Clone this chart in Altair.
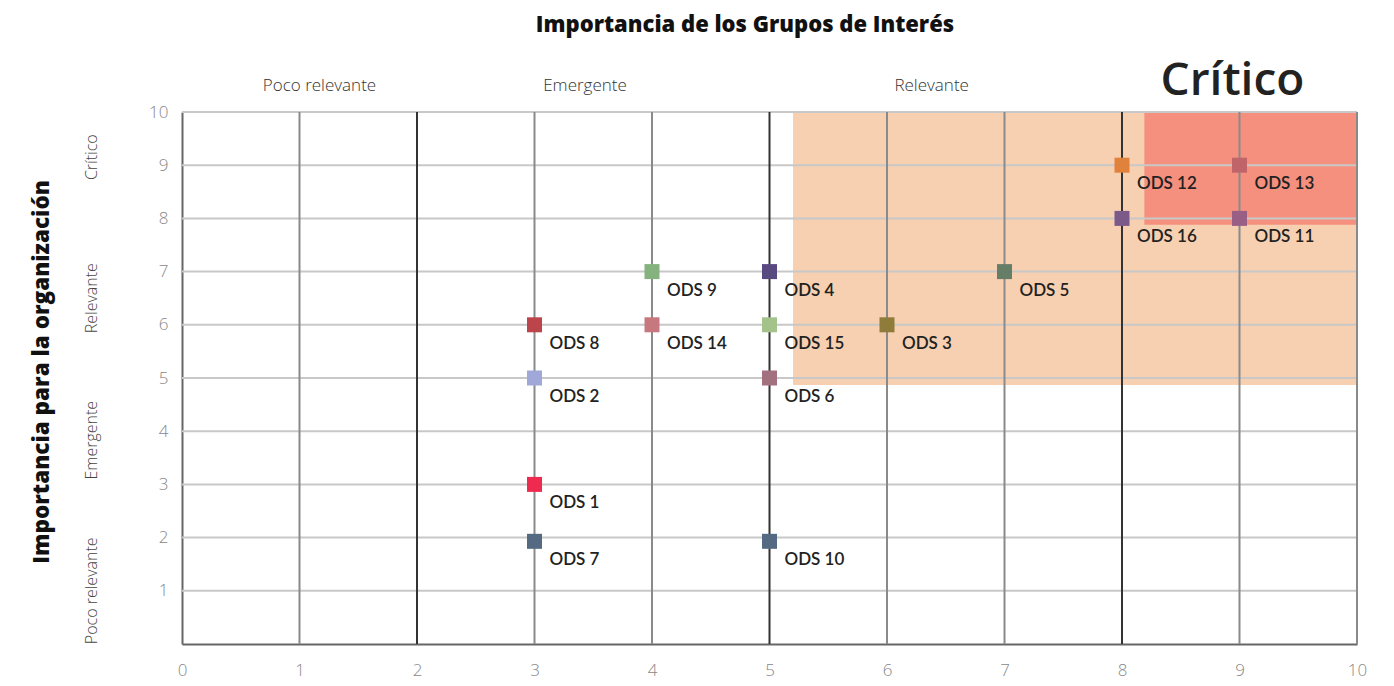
import altair as alt
import pandas as pd

# ---- data ----
ods_labels = ["ODS 1", "ODS 2", "ODS 3", "ODS 4", "ODS 5", "ODS 6", "ODS 7", "ODS 8",
              "ODS 9", "ODS 10", "ODS 11", "ODS 12", "ODS 13", "ODS 14", "ODS 15", "ODS 16"]
grupos = [3, 3, 6, 5, 7, 5, 3, 3, 4, 5, 9, 8, 9, 4, 5, 8]          # x: Importancia de los Grupos de Interés
organizacion = [3, 5, 6, 7, 7, 5, 1.93, 6, 7, 1.93, 8, 9, 9, 6, 6, 8]  # y: Importancia para la organización
ods_colors = ["#EE2A4F", "#9FA8D8", "#8F7B3A", "#584A80", "#667D68", "#A3707F", "#546A82", "#BC444B",
              "#85B27E", "#546A82", "#9A5F85", "#E0813C", "#C0646A", "#C7787E", "#A3C38A", "#7B5A8A"]

zone_x1 = [5.2, 8.19]
zone_x2 = [10, 10]
zone_y1 = [4.87, 7.88]
zone_y2 = [10, 10]
zone_colors = ["#F7D0B1", "#F5907E"]

light_vlines = [1, 3, 4, 6, 7, 9, 10]
dark_vlines = [2, 5, 8]
hlines = [1, 2, 3, 4, 5, 6, 7, 8, 9, 10]

top_cats = ["Poco relevante", "Emergente", "Relevante"]
top_cats_x = [1.17, 3.43, 6.38]
top_big = ["Crítico"]
top_big_x = [8.94]

left_cats = ["Crítico", "Relevante", "Emergente", "Poco relevante"]
left_cats_y = [9.15, 6.5, 3.83, 1.0]

x_ticks = list(range(0, 11))
y_ticks = list(range(1, 11))

# ---- tables ----
pts = pd.DataFrame({"label": ods_labels, "x": grupos, "y": organizacion, "color": ods_colors})
zones = pd.DataFrame({"x1": zone_x1, "x2": zone_x2, "y1": zone_y1, "y2": zone_y2, "color": zone_colors})
lv = pd.DataFrame({"x": light_vlines})
dv = pd.DataFrame({"x": dark_vlines})
hl = pd.DataFrame({"y": hlines})
tc = pd.DataFrame({"t": top_cats, "x": top_cats_x})
tb = pd.DataFrame({"t": top_big, "x": top_big_x})
lc = pd.DataFrame({"t": left_cats, "y": left_cats_y})

xs = alt.Scale(domain=[0, 10], nice=False)
ys = alt.Scale(domain=[0, 10], nice=False)

FONT = "Lato"

xaxis = alt.Axis(values=x_ticks, format="d", grid=False, ticks=False, domainColor="#666", domainWidth=2,
                 labelColor="#888", labelFontSize=17, labelFont="Open Sans", labelFontWeight=300,
                 labelPadding=18, labelFlush=False, labelAlign="center", title=None)
yaxis = alt.Axis(values=y_ticks, format="d", grid=False, ticks=False, domainColor="#666", domainWidth=2,
                 labelColor="#888", labelFontSize=17, labelFont="Open Sans", labelFontWeight=300,
                 labelPadding=14, labelFlush=False, title=None)

zone_layer = alt.Chart(zones).mark_rect().encode(
    x=alt.X("x1:Q", scale=xs, axis=xaxis),
    x2="x2:Q",
    y=alt.Y("y1:Q", scale=ys, axis=yaxis),
    y2="y2:Q",
    color=alt.Color("color:N", scale=None),
)

h_layer = alt.Chart(hl).mark_rule(color="#C8C8C8", strokeWidth=2).encode(
    y=alt.Y("y:Q", scale=ys), x=alt.value(0), x2=alt.value(1175)
)
lv_layer = alt.Chart(lv).mark_rule(color="#8A8A8A", strokeWidth=2).encode(
    x=alt.X("x:Q", scale=xs), y=alt.value(0), y2=alt.value(532)
)
dv_layer = alt.Chart(dv).mark_rule(color="#333333", strokeWidth=2).encode(
    x=alt.X("x:Q", scale=xs), y=alt.value(0), y2=alt.value(532)
)

pt_layer = alt.Chart(pts).mark_square(size=225, opacity=1).encode(
    x=alt.X("x:Q", scale=xs),
    y=alt.Y("y:Q", scale=ys),
    color=alt.Color("color:N", scale=None),
)
lbl_layer = alt.Chart(pts).mark_text(
    align="left", baseline="middle", dx=15, dy=19, fontSize=17, font=FONT,
    fontWeight=600, color="#222222"
).encode(x=alt.X("x:Q", scale=xs), y=alt.Y("y:Q", scale=ys), text="label:N")

top_layer = alt.Chart(tc).mark_text(
    align="center", baseline="middle", fontSize=17, font="Open Sans", fontWeight=300, color="#333"
).encode(x=alt.X("x:Q", scale=xs), y=alt.value(-26), text="t:N")
big_layer = alt.Chart(tb).mark_text(
    align="center", baseline="middle", fontSize=46, font="Open Sans", fontWeight=600, color="#222"
).encode(x=alt.X("x:Q", scale=xs), y=alt.value(-31), text="t:N")
left_layer = alt.Chart(lc).mark_text(
    align="center", baseline="middle", angle=270, fontSize=16, font="Open Sans", fontWeight=300, color="#444"
).encode(y=alt.Y("y:Q", scale=ys), x=alt.value(-90), text="t:N")

title_df = pd.DataFrame({"t": ["Importancia de los Grupos de Interés"]})
title_layer = alt.Chart(title_df).mark_text(
    align="center", baseline="middle", fontSize=22, font="Open Sans", fontWeight=800, color="#111"
).encode(x=alt.value(563), y=alt.value(-87), text="t:N")
ytitle_df = pd.DataFrame({"t": ["Importancia para la organización"]})
ytitle_layer = alt.Chart(ytitle_df).mark_text(
    align="center", baseline="middle", angle=270, fontSize=22.5, font="Open Sans", fontWeight=800, color="#111"
).encode(x=alt.value(-140), y=alt.value(260), text="t:N")

chart = alt.layer(
    zone_layer, h_layer, lv_layer, dv_layer, pt_layer, lbl_layer,
    top_layer, big_layer, left_layer, title_layer, ytitle_layer
).properties(
    width=1175, height=532,
    padding={"left": 174, "top": 104, "right": 20, "bottom": 42},
    autosize=alt.AutoSizeParams(type="none"),
).configure_view(stroke="#888", strokeWidth=2).configure(background="white")

chart.save("out.html", embed_options={"renderer": "svg", "actions": False})
